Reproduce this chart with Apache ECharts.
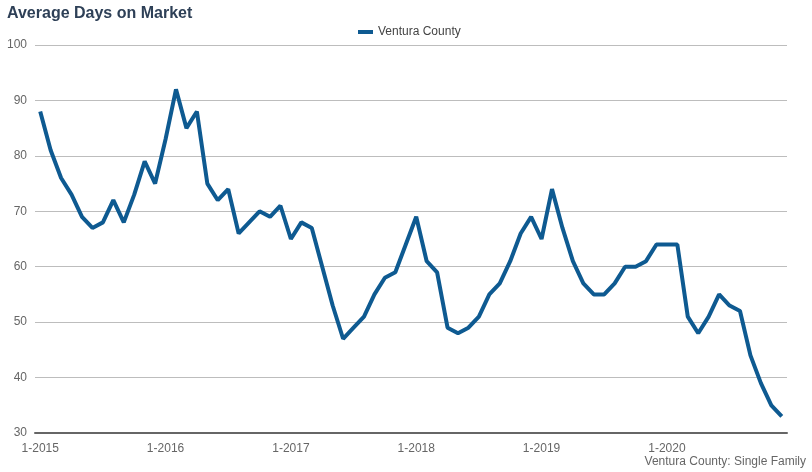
<!DOCTYPE html>
<html>
<head>
<meta charset="utf-8">
<script src="https://cdn.jsdelivr.net/npm/echarts@6/dist/echarts.min.js"></script>
<style>html,body{margin:0;padding:0;background:#fff}#c{width:812px;height:472px}</style>
</head>
<body>
<div id="c"></div>
<script>
const years = [2015, 2016, 2017, 2018, 2019, 2020];
const categories = [];
years.forEach(y => { for (let m = 1; m <= 12; m++) categories.push(m + '-' + y); });
const seriesName = 'Ventura County';
const values = [
  88, 81, 76, 73, 69, 67, 68, 72, 68, 73, 79, 75,
  83, 92, 85, 88, 75, 72, 74, 66, 68, 70, 69, 71,
  65, 68, 67, 60, 53, 47, 49, 51, 55, 58, 59, 64,
  69, 61, 59, 49, 48, 49, 51, 55, 57, 61, 66, 69,
  65, 74, 67, 61, 57, 55, 55, 57, 60, 60, 61, 64,
  64, 64, 51, 48, 51, 55, 53, 52, 44, 39, 35, 33
];
const yTicks = [30, 40, 50, 60, 70, 80, 90, 100];
const titleText = 'Average Days on Market';
const footText = 'Ventura County: Single Family';

const chart = echarts.init(document.getElementById('c'));
const font = '"Liberation Sans", Arial, sans-serif';
chart.setOption({
  animation: false,
  backgroundColor: '#fff',
  textStyle: { fontFamily: font },
  title: [
    { text: titleText, left: 2, top: 1, textStyle: { fontFamily: font, fontSize: 16, fontWeight: 'bold', color: '#2e4057' } },
    { text: footText, right: 1, top: 451, textStyle: { fontFamily: font, fontSize: 12, fontWeight: 'normal', color: '#666' } }
  ],
  legend: {
    top: 21, left: 353,
    data: [{ name: seriesName, icon: 'rect' }],
    itemWidth: 15, itemHeight: 4, itemGap: 6,
    textStyle: { fontFamily: font, fontSize: 12, color: '#444' }
  },
  grid: { left: 35, right: 25, top: 45, bottom: 39, containLabel: false },
  xAxis: {
    type: 'category',
    data: categories,
    boundaryGap: true,
    axisLine: { lineStyle: { color: '#666', width: 2 } },
    axisTick: { alignWithLabel: true, interval: 11, length: 5, lineStyle: { color: '#666', width: 2 } },
    axisLabel: { interval: 11, color: '#666', fontSize: 12, margin: 10 },
    splitLine: { show: false }
  },
  yAxis: {
    type: 'value', min: yTicks[0], max: yTicks[yTicks.length - 1], interval: 10,
    axisLine: { show: false }, axisTick: { show: false },
    axisLabel: { color: '#666', fontSize: 12, margin: 8 },
    splitLine: { lineStyle: { color: '#bdbdbd', width: 1 } }
  },
  series: [{
    name: seriesName, type: 'line', data: values,
    showSymbol: false, symbol: 'none',
    lineStyle: { color: '#0e5a91', width: 4 },
    itemStyle: { color: '#0e5a91' }
  }]
});
</script>
</body>
</html>
